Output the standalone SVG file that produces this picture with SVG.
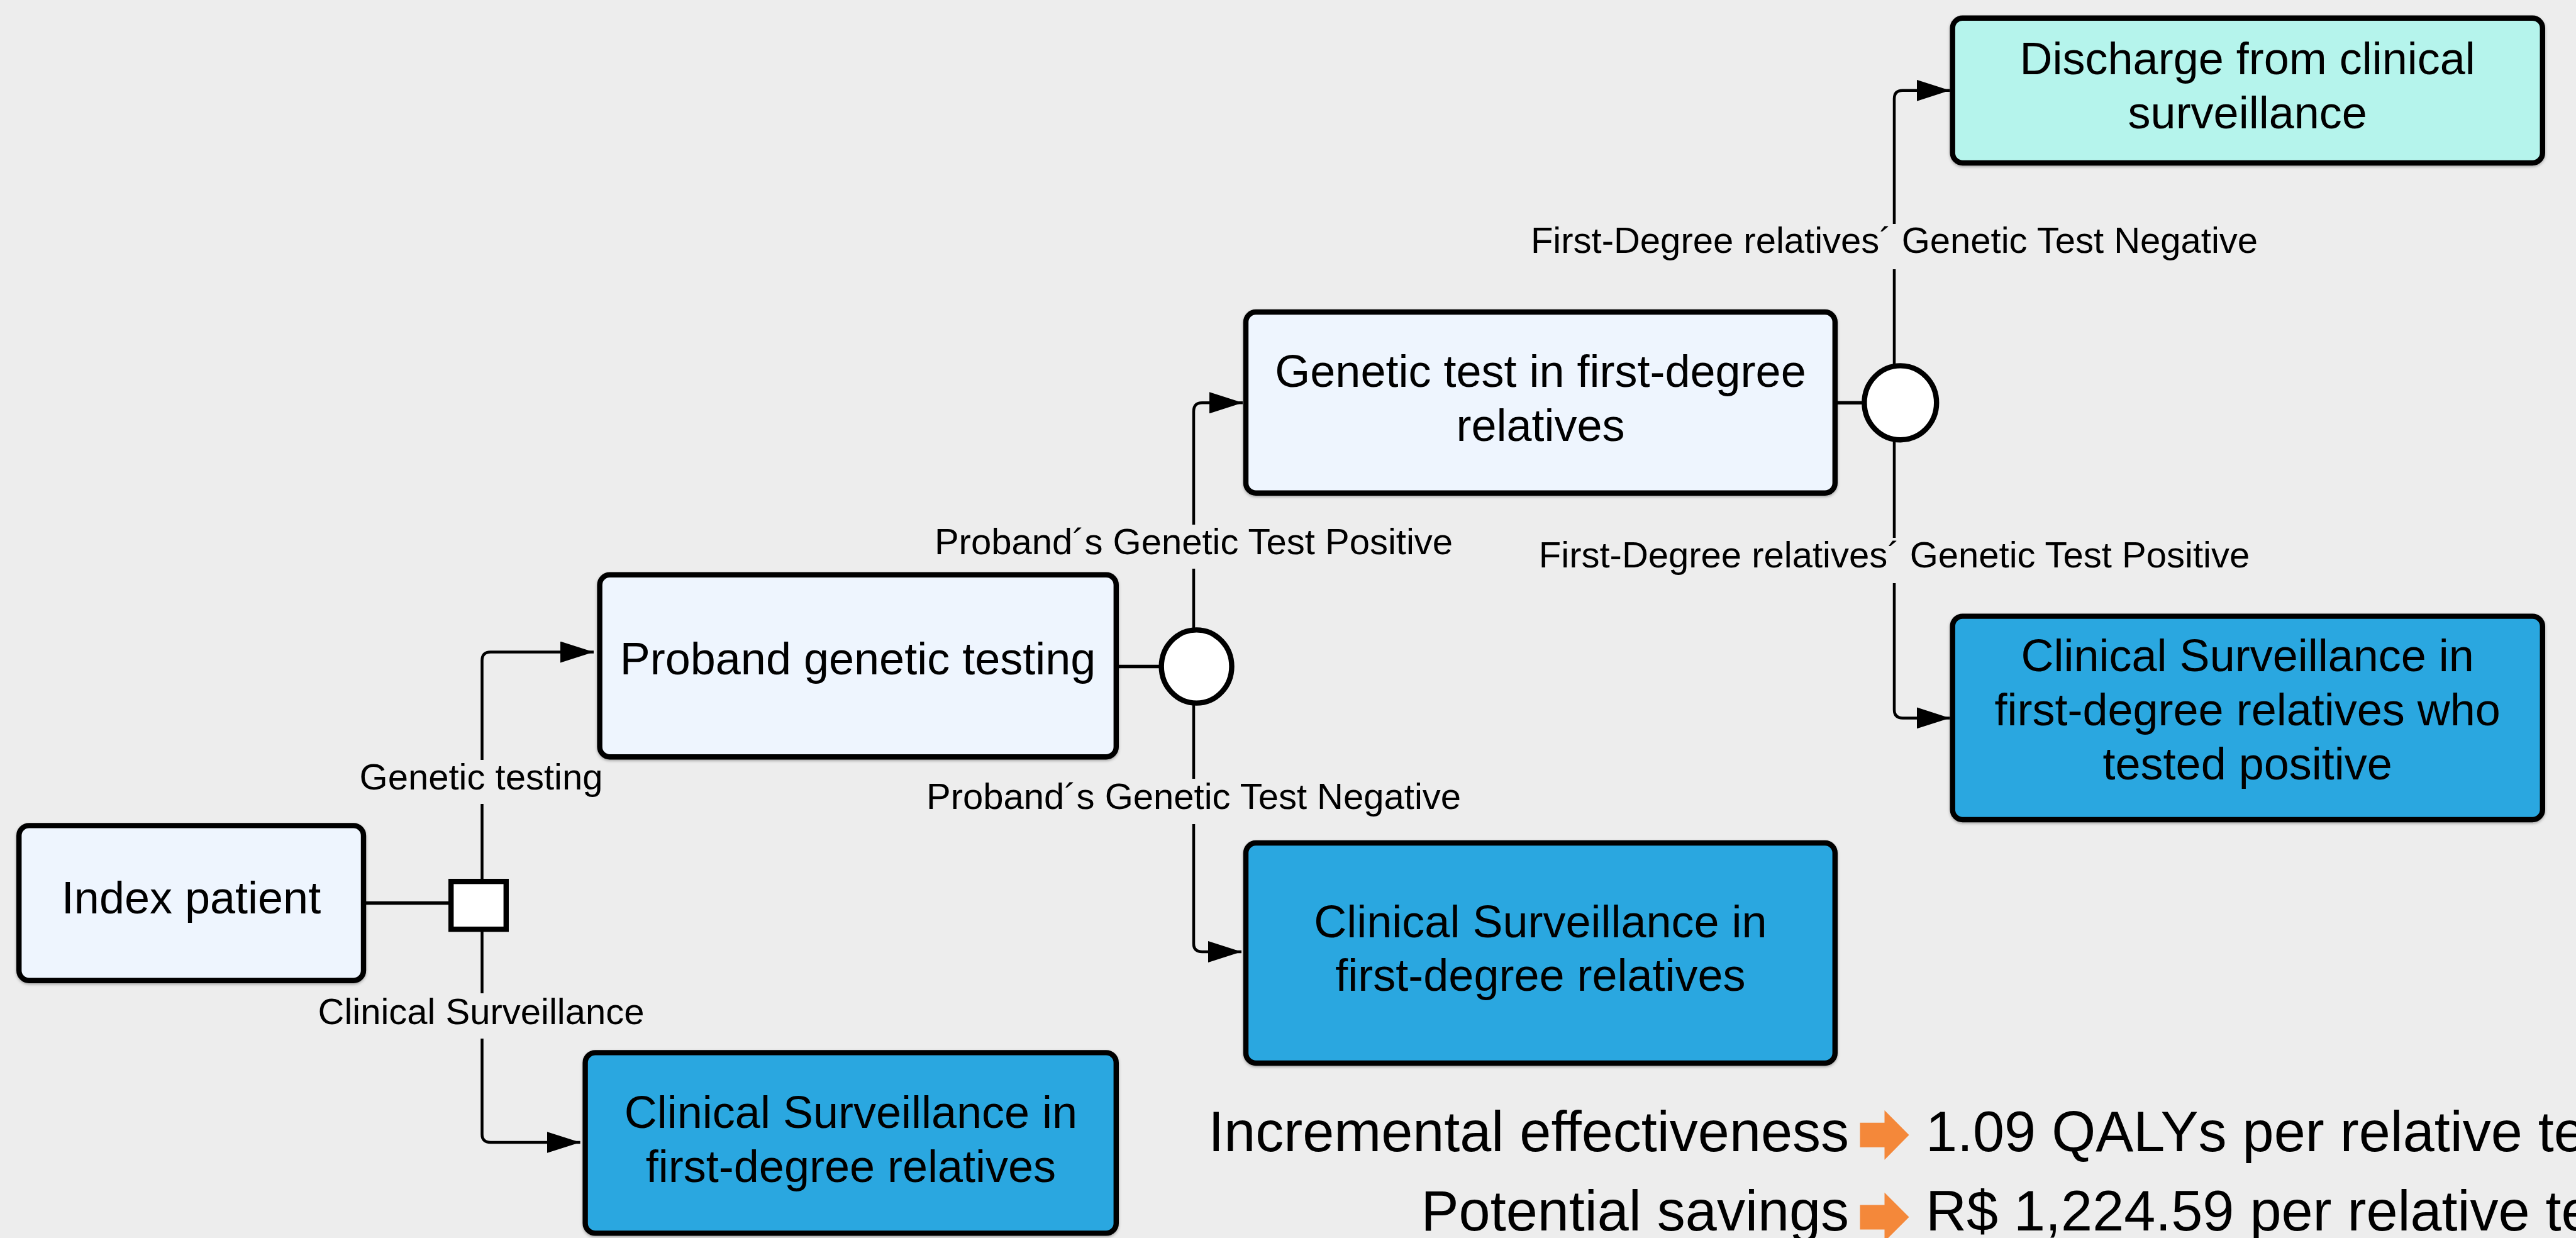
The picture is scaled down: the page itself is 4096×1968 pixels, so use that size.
<svg xmlns="http://www.w3.org/2000/svg" width="4096" height="1968" viewBox="0 0 4096 1968">
<style>
.bg{fill:#EDEDED}
.node{stroke:#000;stroke-width:8.4}
.light{fill:#EEF5FE}
.blue{fill:#29A7E0}
.teal{fill:#B5F4EC}
.gw{fill:#fff;stroke:#000;stroke-width:8.4}
.ntext{font-family:"Liberation Sans",Arial,sans-serif;font-size:72px;fill:#000;text-anchor:middle}
.elabel{font-family:"Liberation Sans",Arial,sans-serif;font-size:58px;fill:#000;text-anchor:middle}
.big{font-family:"Liberation Sans",Arial,sans-serif;font-size:90px;fill:#000}
.conn{fill:none;stroke:#000;stroke-width:4.5}
.stub{fill:none;stroke:#000;stroke-width:5.5}
.gap{fill:#EDEDED}
.orange{fill:#F4883A}
</style>
<defs>
<marker id="arr" markerUnits="userSpaceOnUse" viewBox="0 0 53 34" refX="53" refY="17" markerWidth="53" markerHeight="34" orient="auto">
<path d="M0,0 L53,17 L0,34 Z" fill="#000"/>
</marker>
<filter id="sh" x="-5%" y="-5%" width="110%" height="115%">
<feDropShadow dx="0" dy="2" stdDeviation="2" flood-color="#000" flood-opacity="0.3"/>
</filter>
</defs>
<rect class="bg" x="0" y="0" width="4096" height="1968"/>

<g id="connectors">
<path class="stub" d="M582,1435.5 H720"/>
<path class="conn" d="M766.5,1435 V1050 Q766.5,1036.6 780,1036.6 H944" marker-end="url(#arr)"/>
<path class="conn" d="M766.5,1435 V1803 Q766.5,1816 780,1816 H922.6" marker-end="url(#arr)"/>
<path class="stub" d="M1779,1059.5 H1850"/>
<path class="conn" d="M1898,1059.5 V654 Q1898,640.3 1911.5,640.3 H1976" marker-end="url(#arr)"/>
<path class="conn" d="M1898,1059.5 V1500 Q1898,1513 1911.5,1513 H1974" marker-end="url(#arr)"/>
<path class="stub" d="M2922,640.3 H2968"/>
<path class="conn" d="M3012,640.3 V157 Q3012,143.8 3025.5,143.8 H3100.5" marker-end="url(#arr)"/>
<path class="conn" d="M3012,640.3 V1128 Q3012,1141.4 3025.5,1141.4 H3100.5" marker-end="url(#arr)"/>
<rect class="gap" x="752" y="1208" width="29" height="70"/>
<rect class="gap" x="752" y="1579" width="29" height="72"/>
<rect class="gap" x="1884" y="834" width="28" height="70"/>
<rect class="gap" x="1884" y="1238" width="28" height="72"/>
<rect class="gap" x="2998" y="356" width="28" height="72"/>
<rect class="gap" x="2998" y="855" width="28" height="72"/>
<text class="elabel" x="765" y="1254.6">Genetic testing</text>
<text class="elabel" x="765" y="1628">Clinical Surveillance</text>
<text class="elabel" x="1898" y="880.5">Proband´s Genetic Test Positive</text>
<text class="elabel" x="1898" y="1286">Proband´s Genetic Test Negative</text>
<text class="elabel" x="3012" y="401.6">First-Degree relatives´ Genetic Test Negative</text>
<text class="elabel" x="3012" y="902">First-Degree relatives´ Genetic Test Positive</text>
</g>

<g id="index-patient">
<rect class="node light" filter="url(#sh)" x="30.2" y="1312.4" width="547.8" height="246.3" rx="16"/>
<text class="ntext" x="304" y="1452">Index patient</text>
</g>

<g id="decision-square">
<rect class="gw" x="717.2" y="1401.2" width="87.6" height="76"/>
</g>

<g id="proband-genetic-testing">
<rect class="node light" filter="url(#sh)" x="953.6" y="913.8" width="821.2" height="289.4" rx="16"/>
<text class="ntext" x="1364" y="1072">Proband genetic testing</text>
</g>

<g id="cs-first-degree-1">
<rect class="node blue" filter="url(#sh)" x="930.6" y="1673.4" width="844.2" height="287" rx="16"/>
<text class="ntext" x="1353" y="1793">Clinical Surveillance in</text>
<text class="ntext" x="1353" y="1879">first-degree relatives</text>
</g>

<g id="chance-1">
<ellipse class="gw" cx="1902.6" cy="1059.5" rx="55.9" ry="58.1"/>
</g>

<g id="genetic-test-relatives">
<rect class="node light" filter="url(#sh)" x="1981" y="496" width="936.8" height="287.7" rx="16"/>
<text class="ntext" x="2449.5" y="615">Genetic test in first-degree</text>
<text class="ntext" x="2449.5" y="701">relatives</text>
</g>

<g id="cs-first-degree-2">
<rect class="node blue" filter="url(#sh)" x="1981" y="1340" width="936.8" height="350" rx="16"/>
<text class="ntext" x="2449.5" y="1489.5">Clinical Surveillance in</text>
<text class="ntext" x="2449.5" y="1575">first-degree relatives</text>
</g>

<g id="chance-2">
<ellipse class="gw" cx="3021.8" cy="640.3" rx="57.4" ry="58.9"/>
</g>

<g id="discharge">
<rect class="node teal" filter="url(#sh)" x="3104.7" y="28.7" width="938.1" height="230.3" rx="16"/>
<text class="ntext" x="3573.7" y="118">Discharge from clinical</text>
<text class="ntext" x="3573.7" y="203.5">surveillance</text>
</g>

<g id="cs-positive">
<rect class="node blue" filter="url(#sh)" x="3104.7" y="979.6" width="938.1" height="323.4" rx="16"/>
<text class="ntext" x="3573.7" y="1067">Clinical Surveillance in</text>
<text class="ntext" x="3573.7" y="1153">first-degree relatives who</text>
<text class="ntext" x="3573.7" y="1238.5">tested positive</text>
</g>

<g id="results">
<text class="big" x="2940" y="1830" text-anchor="end">Incremental effectiveness</text>
<polygon class="orange" points="2957.5,1784.7 2996.5,1784.7 2996.5,1764.9 3035.5,1804.3 2996.5,1843.7 2996.5,1823.8 2957.5,1823.8"/>
<text class="big" x="3062" y="1830">1.09 QALYs per relative te</text>
<text class="big" x="2940" y="1956" text-anchor="end">Potential savings</text>
<polygon class="orange" points="2957.5,1915.6 2996.5,1915.6 2996.5,1895.7 3035.5,1934.7 2996.5,1973.7 2996.5,1954.6 2957.5,1954.6"/>
<text class="big" x="3062" y="1956">R$ 1,224.59 per relative te</text>
</g>
</svg>
